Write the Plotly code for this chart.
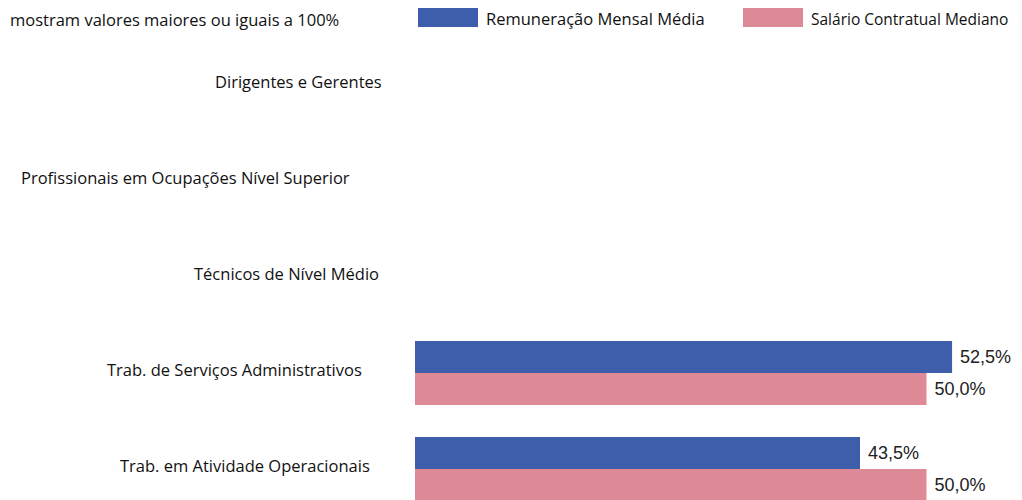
import plotly.graph_objects as go

# categories, top to bottom
categories = [
    "Dirigentes e Gerentes",
    "Profissionais em Ocupações Nível Superior",
    "Técnicos de Nível Médio",
    "Trab. de Serviços Administrativos",
    "Trab. em Atividade Operacionais",
]
# first three groups are >= 100% and are not drawn in this view
remuneracao_media = [None, None, None, 52.5, 43.5]
salario_mediano = [None, None, None, 50.0, 50.0]

series_names = ["Remuneração Mensal Média", "Salário Contratual Mediano"]
colors = ["#3E5DAB", "#DD8A96"]

note_text = "mostram valores maiores ou iguais a 100%"

# right end of each category label, in screen pixels
label_right_px = [384, 352, 381, 364, 372]

# page body has an 8px margin, so the figure starts at (8, 8) on screen
OX, OY = 8, 8
W, H = 1022 - 2 * OX, 500 - OY
LEFT = 415            # screen x where bars start
PX_PER_PCT = 10.23
ROW = 96              # px between category centres
FIRST_ROW = 85        # screen y of first category centre
FONT = "Open Sans"
FS = 16.5


def pct(v):
    return None if v is None else "\u00a0" + f"{v:.1f}%".replace(".", ",")


def px_x(sx):
    return (sx - LEFT) / (W - (LEFT - OX))


def px_y(sy):
    return 1 - (sy - OY) / H


fig = go.Figure()
for name, vals, col in zip(series_names, [remuneracao_media, salario_mediano], colors):
    fig.add_trace(go.Bar(
        y=categories, x=vals, orientation="h", name=name,
        marker=dict(color=col, line=dict(width=0)),
        text=[pct(v) for v in vals], textposition="outside",
        textfont=dict(family="Liberation Sans", size=18, color="#222"),
        cliponaxis=False, showlegend=False,
    ))

# category labels (not aligned in the source picture)
for cat, px in zip(categories, label_right_px):
    fig.add_annotation(
        x=px_x(px), xref="paper", y=cat, yref="y",
        text=cat, showarrow=False, xanchor="right", yanchor="middle",
        yshift=4, font=dict(family=FONT, size=FS, color="#111"),
    )

# legend drawn by hand to get the wide swatches
legend_items = [(418, 484, 16.5), (743, 809, 15.5)]
for (sx, tx, fs), name, col in zip(legend_items, series_names, colors):
    fig.add_shape(type="rect", xref="paper", yref="paper",
                  x0=px_x(sx), x1=px_x(sx + 60),
                  y0=px_y(27), y1=px_y(6),
                  fillcolor=col, line=dict(width=0))
    fig.add_annotation(x=px_x(tx), xref="paper", y=px_y(19), yref="paper",
                       text=name, showarrow=False, xanchor="left", yanchor="middle",
                       font=dict(family=FONT, size=fs, color="#111"))

fig.add_annotation(x=px_x(8), xref="paper", y=1, yref="paper",
                   text=note_text, showarrow=False, xanchor="left", yanchor="top",
                   yshift=2, font=dict(family=FONT, size=FS, color="#111"))

top_val = (OY - FIRST_ROW) / ROW
bottom_val = top_val + H / ROW

fig.update_layout(
    width=W, height=H,
    margin=dict(l=LEFT - OX, r=0, t=0, b=0),
    plot_bgcolor="white", paper_bgcolor="white",
    barmode="group", bargap=0.333, bargroupgap=0,
    xaxis=dict(range=[0, (W - (LEFT - OX)) / PX_PER_PCT], visible=False),
    yaxis=dict(range=[bottom_val, top_val], visible=False,
               categoryorder="array", categoryarray=categories),
)

fig.write_html("out.html")
